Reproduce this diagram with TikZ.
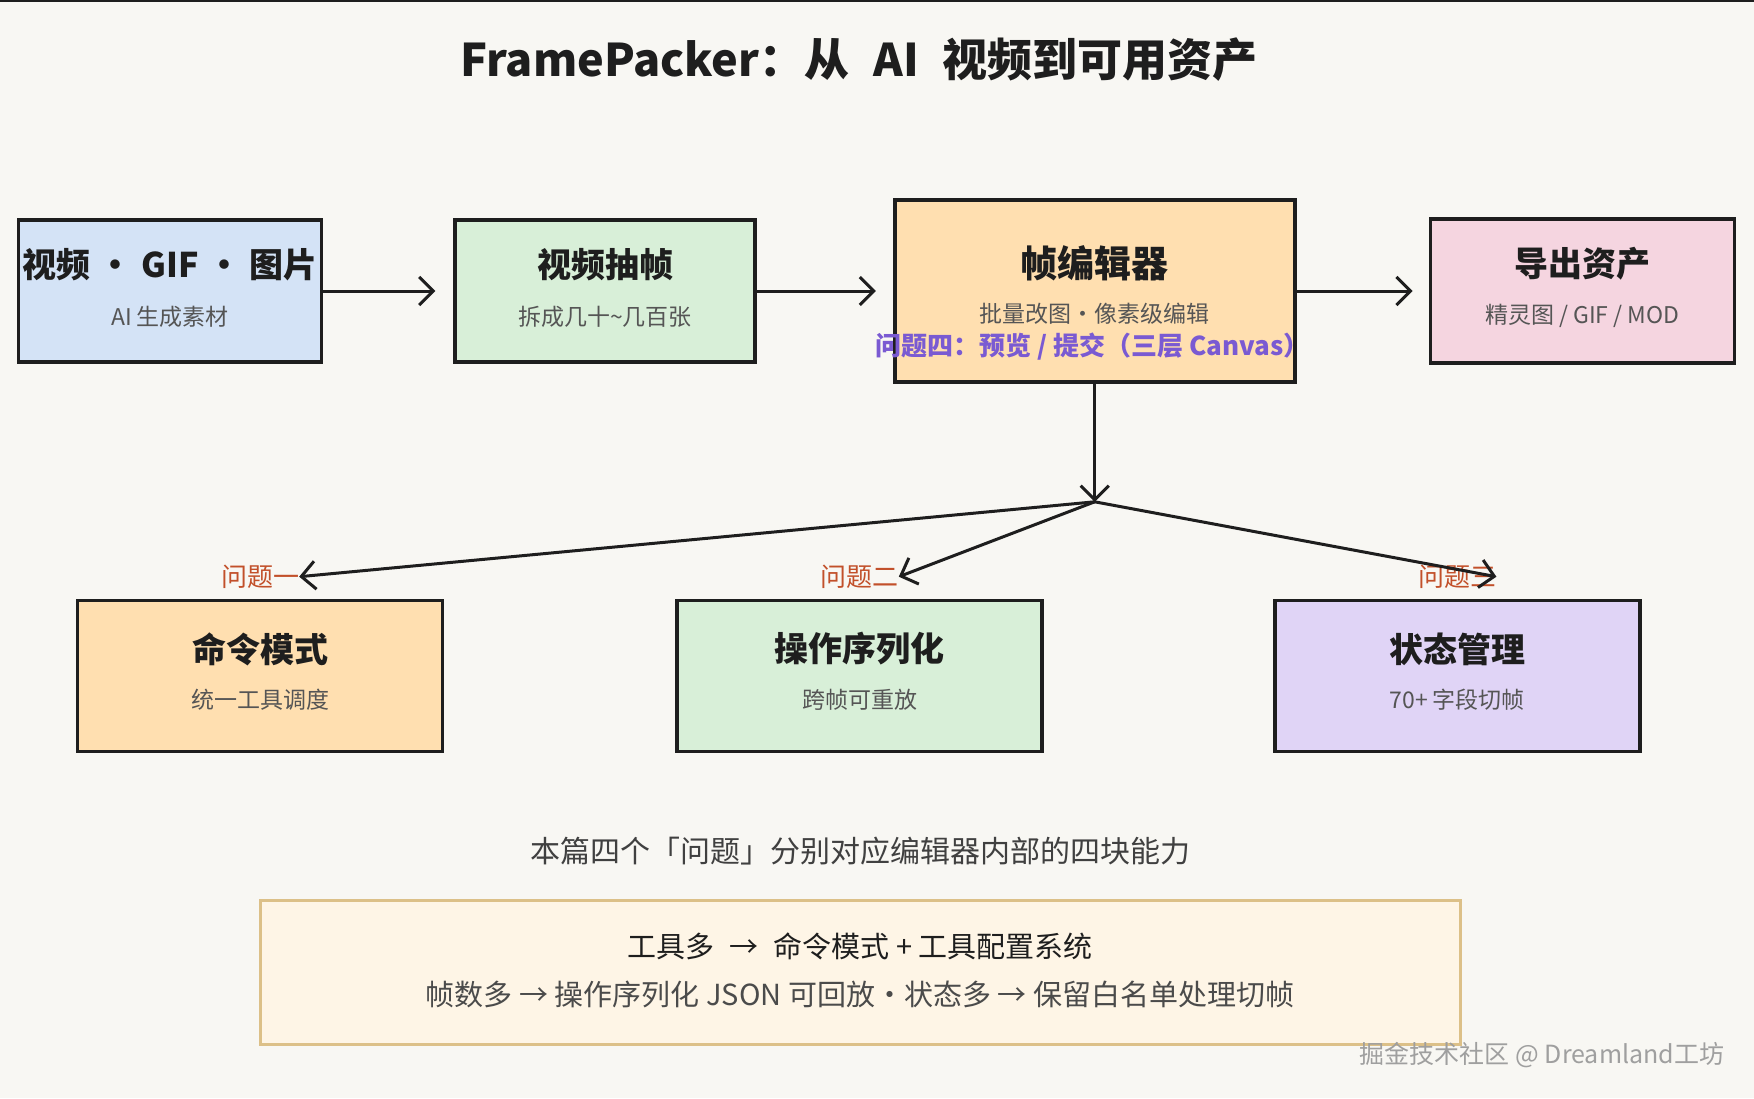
\documentclass[tikz,border=0pt]{standalone}
\usepackage{fontspec}
\setmainfont{Noto Sans CJK SC}
\usetikzlibrary{arrows.meta,positioning}
\definecolor{fpink}{HTML}{1E1E1E}
\definecolor{fpgrey}{HTML}{555555}
\definecolor{fpbg}{HTML}{F8F7F3}
\definecolor{fpblue}{HTML}{D4E3F6}
\definecolor{fpgreen}{HTML}{D8EFD8}
\definecolor{fporange}{HTML}{FFDFB0}
\definecolor{fprose}{HTML}{F5D5E0}
\definecolor{fplilac}{HTML}{E0D4F6}
\definecolor{fpred}{HTML}{C2502A}
\definecolor{fpviolet}{HTML}{7A5AD2}
\definecolor{fpcream}{HTML}{FEF5E6}
\definecolor{fptan}{HTML}{DCC088}
\newcommand{\fsz}[1]{\fontsize{#1}{#1}\selectfont}

\begin{document}
\begin{tikzpicture}[x=1pt, y=-1pt,
        card/.style={draw=fpink, line width=3.6pt, inner sep=0pt,
                     minimum width=303pt, minimum height=142pt},
        cblue/.style={card, fill=fpblue},
        cgreen/.style={card, fill=fpgreen},
        corange/.style={card, fill=fporange},
        crose/.style={card, fill=fprose},
        clilac/.style={card, fill=fplilac},
        low/.style={minimum width=365pt, minimum height=151pt},
        ttl/.style={font=\fsz{34}\bfseries, text=fpink},
        sub/.style={font=\fsz{23}, text=fpgrey},
        qlbl/.style={font=\fsz{26}, text=fpred, inner sep=0pt},
        arr/.style={draw=fpink, line width=3pt, line cap=round,
                    -{Straight Barb[length=14pt, width=28pt]}}
    ]
        \fill[fpbg] (0,0) rectangle (1754,1098);
        \useasboundingbox (0,0) rectangle (1754,1098);
        \draw[fpink, line width=1.5pt] (0,0.75) -- (1754,0.75);
        \node[font=\fsz{45}\bfseries, text=fpink] (title) at (859,60)
            {FramePacker：从\hspace{.3em} AI\hspace{.3em} 视频到可用资产};

        \node[cblue] (src) at (170,291) {};
        \node[cgreen, right=130pt of src, minimum width=300pt] (extract) {};
        \node[corange, right=136pt of extract, minimum width=400pt,
              minimum height=182pt] (editor) {};
        \node[crose, right=132pt of editor, minimum width=304pt,
              minimum height=144pt] (export) {};
        \node[ttl] at ([yshift=26pt]src.center)
            {视频\hspace{.25em}·\hspace{.25em}GIF\hspace{.25em}·\hspace{.25em}图片};
        \node[sub] at ([yshift=-26pt]src.center) {AI 生成素材};
        \node[ttl] at ([yshift=26pt]extract.center) {视频抽帧};
        \node[sub] at ([yshift=-26pt]extract.center) {拆成几十\textasciitilde 几百张};
        \node[ttl, font=\fsz{37}\bfseries] at ([yshift=28pt]editor.center) {帧编辑器};
        \node[sub] at ([yshift=-23pt]editor.center) {批量改图·像素级编辑};
        \node[font=\fsz{26}\bfseries, text=fpviolet]
            at ([xshift=-2pt, yshift=-56pt]editor.center)
            {问题四：预览 / 提交（三层 Canvas）};
        \node[ttl] at ([yshift=27pt]export.center) {导出资产};
        \node[sub] at ([yshift=-25pt]export.center) {精灵图 / GIF / MOD};

        \node[corange, low] (cmd) at (260,676) {};
        \node[cgreen, low, right=231pt of cmd] (ops) {};
        \node[clilac, low, right=229pt of ops] (state) {};
        \node[ttl] at ([yshift=27pt]cmd.center) {命令模式};
        \node[sub] at ([yshift=-24pt]cmd.center) {统一工具调度};
        \node[ttl] at ([yshift=27pt]ops.center) {操作序列化};
        \node[sub] at ([yshift=-24pt]ops.center) {跨帧可重放};
        \node[ttl] at ([yshift=27pt]state.center) {状态管理};
        \node[sub] at ([yshift=-24pt]state.center) {70+ 字段切帧};
        \node[qlbl, above=10pt of cmd] (q1) {问题一};
        \node[qlbl, above=10pt of ops] (q2) {问题二};
        \node[qlbl, above=10pt of state] (q3) {问题三};

        \coordinate (hub) at ([yshift=-118pt]editor.south);
        \draw[arr, shorten >=18pt] (src.east) -- (extract.west);
        \draw[arr, shorten >=17pt] (extract.east) -- (editor.west);
        \draw[arr, shorten >=16pt] (editor.east) -- (export.west);
        \draw[arr] (editor.south) -- (hub);
        \draw[arr] (hub) -- (q1.east);
        \draw[arr] (hub) -- (q2.east);
        \draw[arr] (hub) -- (q3.east);

        \node[draw=fptan, fill=fpcream, line width=3pt, minimum width=1200pt,
              minimum height=144pt] (sum) at (860,972) {};
        \node[font=\fsz{30}, text=fpink!85, above=33pt of sum, inner sep=0pt] (note)
            {本篇四个「问题」分别对应编辑器内部的四块能力};
        \node[font=\fsz{29}, text=fpink] at ([yshift=26pt]sum.center)
            {工具多\hspace{.3em} → \hspace{.3em}命令模式 + 工具配置系统};
        \node[font=\fsz{29}, text=fpink!80] at ([yshift=-22pt]sum.center)
            {帧数多 → 操作序列化 JSON 可回放·状态多 → 保留白名单处理切帧};
        \node[font=\fsz{25}, text=gray!75] (mark) at (1542,1055)
            {掘金技术社区 @ Dreamland工坊};
    \end{tikzpicture}
\end{document}
